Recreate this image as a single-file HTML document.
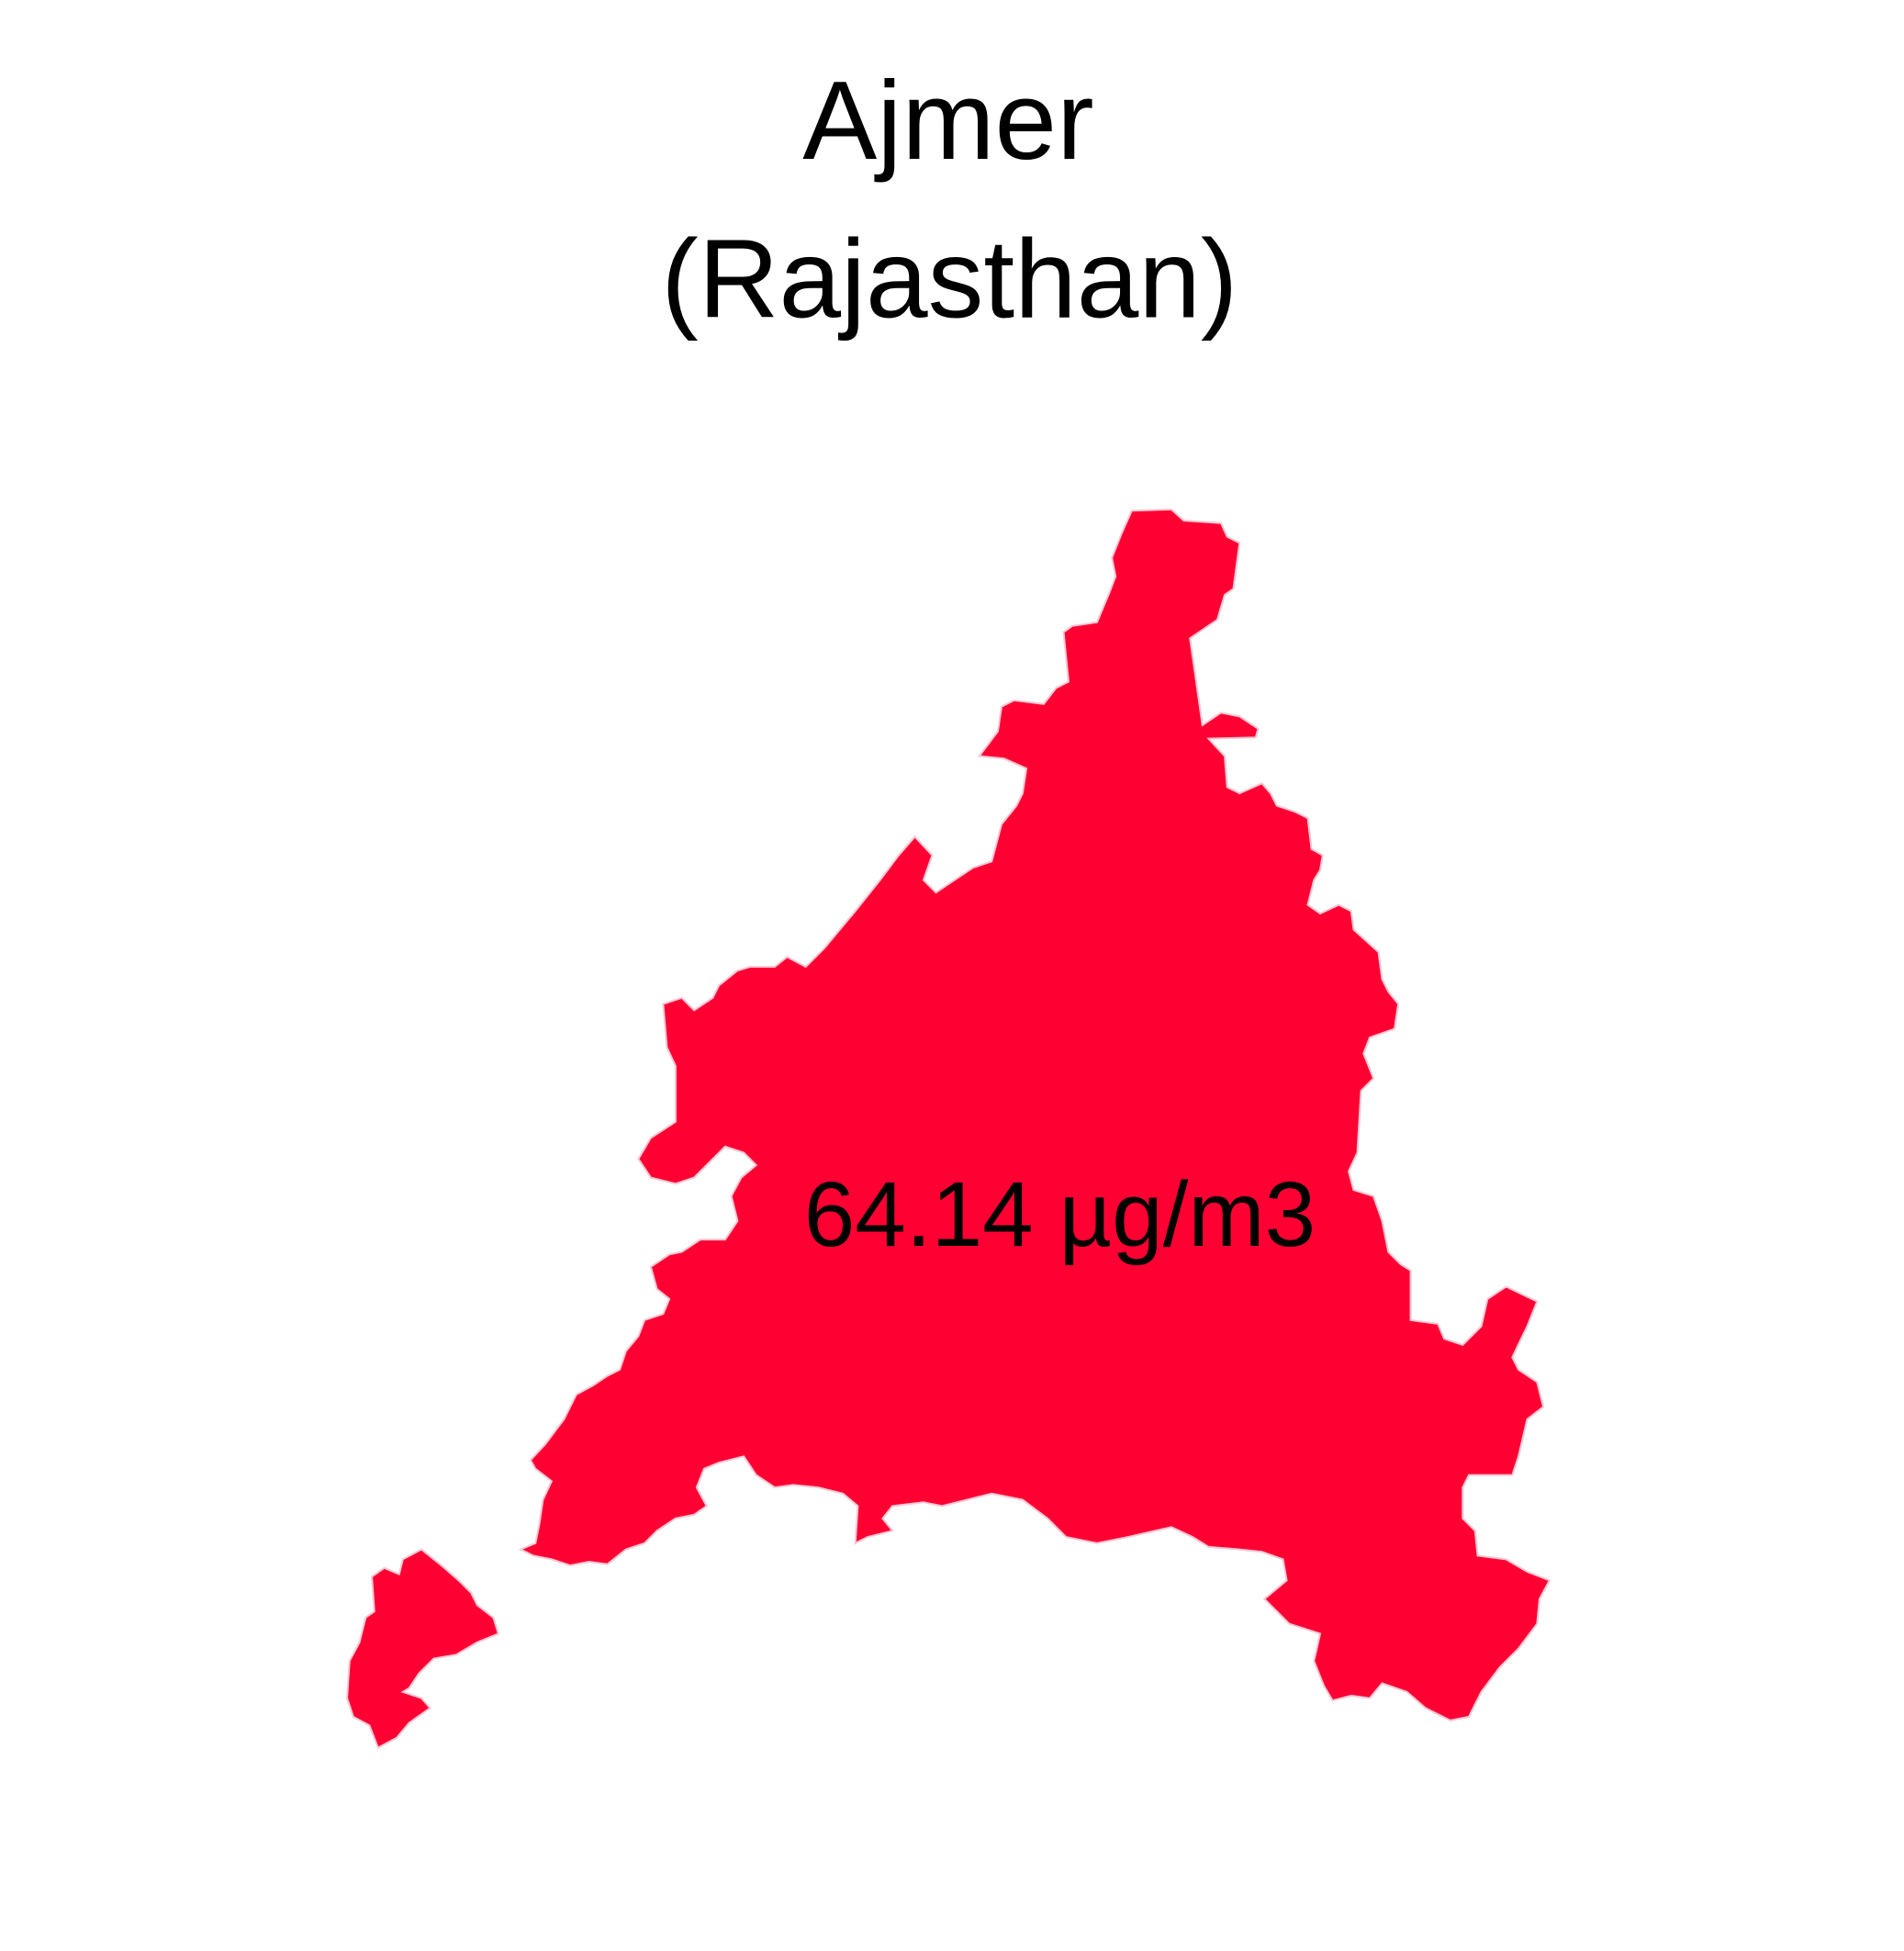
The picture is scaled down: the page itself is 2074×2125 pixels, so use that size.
<!DOCTYPE html>
<html><head><meta charset="utf-8"><style>
html,body{margin:0;padding:0;background:#fff;}
svg{display:block;}
</style></head><body>
<svg width="2074" height="2125" viewBox="0 0 1536 1574" preserveAspectRatio="none">
<text x="765" y="128" text-anchor="middle" font-family="Liberation Sans, sans-serif" font-size="90" fill="#000">Ajmer</text>
<text x="766" y="256" text-anchor="middle" font-family="Liberation Sans, sans-serif" font-size="90" fill="#000">(Rajasthan)</text>
<g id="shapes"></g>
<text id="lbl" x="855" y="1005" text-anchor="middle" font-family="Liberation Sans, sans-serif" font-size="74" fill="#000"></text>
</svg>
<script>
const districtName = ["Ajmer"];
const pmValues = [64.14];
const mainOutline = [[913,412],[945,411],[955,420],[985,422],[990,433],[1000,438],[995,475],[988,480],[982,500],[960,515],[965,550],[970,585],[985,575],[1000,578],[1015,588],[1013,595],[975,596],[988,610],[990,635],[1000,640],[1018,632],[1025,640],[1030,650],[1045,655],[1055,660],[1058,685],[1067,690],[1065,702],[1060,710],[1055,730],[1065,737],[1080,730],[1090,735],[1092,750],[1112,768],[1115,790],[1120,800],[1128,810],[1125,830],[1105,837],[1100,850],[1108,870],[1098,880],[1095,930],[1088,945],[1092,960],[1108,965],[1115,985],[1120,1010],[1130,1020],[1138,1025],[1138,1065],[1160,1068],[1165,1080],[1180,1085],[1195,1070],[1200,1048],[1215,1038],[1240,1050],[1232,1070],[1220,1095],[1225,1105],[1240,1115],[1245,1135],[1232,1145],[1225,1175],[1220,1190],[1185,1190],[1180,1200],[1180,1225],[1190,1235],[1192,1255],[1215,1258],[1232,1268],[1250,1275],[1242,1290],[1240,1310],[1225,1330],[1210,1345],[1195,1365],[1185,1385],[1170,1388],[1150,1378],[1135,1365],[1115,1358],[1105,1370],[1090,1368],[1075,1372],[1068,1360],[1060,1340],[1065,1318],[1040,1310],[1020,1290],[1038,1275],[1035,1258],[1018,1252],[1000,1250],[975,1248],[962,1240],[945,1232],[910,1240],[885,1245],[860,1240],[845,1225],[825,1210],[800,1205],[760,1215],[745,1212],[720,1215],[712,1225],[720,1235],[700,1240],[690,1245],[692,1215],[680,1205],[660,1200],[640,1198],[625,1200],[610,1190],[600,1175],[580,1180],[568,1185],[562,1200],[570,1215],[560,1222],[545,1225],[530,1235],[520,1245],[505,1250],[490,1262],[475,1260],[460,1263],[445,1258],[430,1255],[420,1250],[432,1245],[435,1230],[438,1210],[445,1195],[432,1185],[428,1178],[440,1165],[455,1145],[465,1125],[478,1118],[490,1110],[500,1105],[505,1090],[515,1078],[520,1065],[535,1060],[540,1048],[530,1040],[525,1022],[540,1012],[550,1010],[565,1000],[585,1000],[595,985],[590,965],[598,950],[610,940],[600,930],[585,925],[575,935],[560,950],[545,955],[525,950],[515,935],[525,918],[545,905],[545,860],[538,845],[535,810],[550,805],[560,815],[575,805],[580,795],[595,783],[605,780],[625,780],[635,772],[650,780],[665,765],[690,735],[710,710],[725,690],[738,675],[752,690],[745,710],[755,720],[770,710],[785,700],[800,695],[808,665],[820,650],[825,640],[828,620],[810,612],[790,610],[805,590],[808,570],[818,565],[842,568],[852,555],[862,550],[858,510],[865,505],[885,502],[895,478],[900,465],[897,450],[905,430]];
const islandOutline = [[305,1410],[298,1392],[285,1385],[280,1370],[282,1340],[290,1325],[295,1305],[302,1300],[300,1272],[310,1265],[322,1270],[325,1258],[340,1250],[355,1262],[370,1275],[380,1285],[385,1295],[398,1305],[402,1318],[385,1325],[368,1335],[350,1338],[338,1350],[330,1362],[325,1365],[340,1370],[347,1378],[330,1390],[320,1402]];
const g = document.getElementById('shapes');
[mainOutline, islandOutline].forEach((pts, i) => {
  const p = document.createElementNS('http://www.w3.org/2000/svg','polygon');
  p.setAttribute('points', pts.map(q => q.join(',')).join(' '));
  p.setAttribute('fill', '#FF0033');
  p.setAttribute('stroke', '#f4c8d4');
  p.setAttribute('stroke-width', '1.5');
  
  
  g.appendChild(p);
});
document.getElementById('lbl').textContent = pmValues[0].toFixed(2) + ' µg/m3';
</script>
</body></html>
